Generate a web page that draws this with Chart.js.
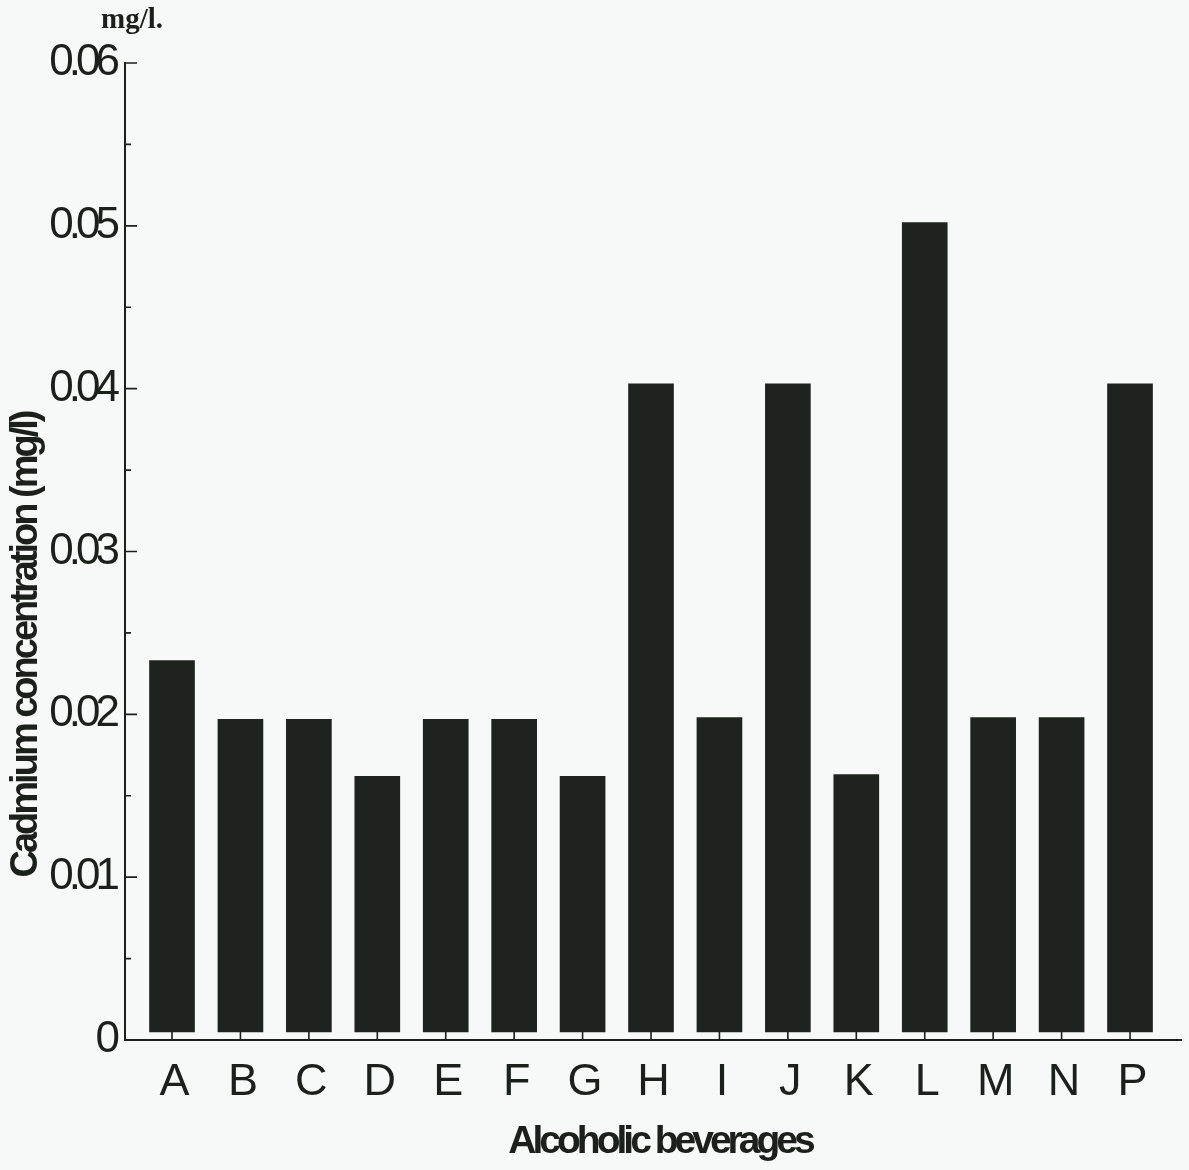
<!DOCTYPE html>
<html>
<head>
<meta charset="utf-8">
<title>Cadmium concentration in alcoholic beverages</title>
<script src="https://cdn.jsdelivr.net/npm/chart.js@4.4.1/dist/chart.umd.min.js"></script>
<style>
  html, body { margin: 0; padding: 0; background: #f7f9f8; }
  #wrap { width: 1189px; height: 1170px; }
</style>
</head>
<body>
<div id="wrap"><canvas id="chart" width="1189" height="1170"></canvas></div>
<script>
// Beverage samples and their cadmium concentration (mg/l)
const categories = ['A', 'B', 'C', 'D', 'E', 'F', 'G', 'H', 'I', 'J', 'K', 'L', 'M', 'N', 'P'];
const cadmium = [0.0233, 0.0197, 0.0197, 0.0162, 0.0197, 0.0197, 0.0162, 0.0403, 0.0198, 0.0403, 0.0163, 0.0502, 0.0198, 0.0198, 0.0403];

// Value axis
const yMin = 0;
const yMax = 0.06;
const yStep = 0.01;

// Texts
const unitNote = 'mg/l.';
const xTitle = 'Alcoholic beverages';
const yTitle = 'Cadmium concentration (mg/l)';

const ink = '#1c201d';
const barColor = '#1e2320';

// Inward tick marks on both axes plus the hand-set axis titles
const axisDecor = {
  id: 'axisDecor',
  beforeDraw(chart) {
    // condensed look of the tick numbers
    chart.ctx.letterSpacing = '-5px';
  },
  afterDatasetsDraw(chart) {
    const ctx = chart.ctx;
    const x = chart.scales.x, y = chart.scales.y;
    const left = chart.chartArea.left, bottom = chart.chartArea.bottom;
    ctx.save();
    ctx.strokeStyle = ink;
    ctx.lineWidth = 1.6;
    ctx.beginPath();
    const ticks = y.ticks.map(t => t.value);
    ticks.forEach((v, i) => {
      if (i > 0) {
        const p = y.getPixelForValue(v);
        ctx.moveTo(left, p); ctx.lineTo(left + 12, p);
        const m = y.getPixelForValue((v + ticks[i - 1]) / 2);
        ctx.moveTo(left, m); ctx.lineTo(left + 6, m);
      }
    });
    x.ticks.forEach(t => {
      const p = x.getPixelForValue(t.value);
      ctx.moveTo(p, bottom); ctx.lineTo(p, bottom - 9);
    });
    ctx.stroke();
    ctx.restore();
  },
  afterDraw(chart) {
    const ctx = chart.ctx;
    ctx.save();
    ctx.fillStyle = ink;

    ctx.letterSpacing = '0px';
    ctx.font = 'bold 29px "Liberation Serif", "Times New Roman", serif';
    ctx.textAlign = 'left';
    ctx.textBaseline = 'alphabetic';
    ctx.fillText(unitNote, 101, 28);

    ctx.font = 'bold 39px "Liberation Sans", Arial, sans-serif';
    ctx.letterSpacing = '-4px';
    ctx.textAlign = 'center';
    ctx.fillText(xTitle, 660, 1153);

    ctx.font = 'bold 38px "Liberation Sans", Arial, sans-serif';
    ctx.letterSpacing = '-3px';
    ctx.translate(37, 645);
    ctx.rotate(-Math.PI / 2);
    ctx.fillText(yTitle, 0, 0);
    ctx.restore();
    ctx.letterSpacing = '0px';
  }
};

new Chart(document.getElementById('chart'), {
  type: 'bar',
  data: {
    datasets: [{
      label: 'Cadmium',
      data: cadmium.map((v, i) => ({ x: i, y: v })),
      backgroundColor: barColor,
      borderWidth: 0,
      barThickness: 45,
      base: 0.0005
    }]
  },
  options: {
    responsive: false,
    animation: false,
    devicePixelRatio: 1,
    layout: { padding: { top: 63, right: 8, left: 0, bottom: 0 } },
    plugins: { legend: { display: false }, tooltip: { enabled: false } },
    scales: {
      x: {
        type: 'linear',
        offset: false,
        min: -0.687,
        max: 14.745,
        grid: { display: false, drawTicks: false, offset: false },
        border: { display: true, color: ink, width: 2 },
        afterBuildTicks(scale) { scale.ticks = categories.map((c, i) => ({ value: i })); },
        afterFit(scale) { scale.height = 130; },
        ticks: {
          autoSkip: false,
          maxRotation: 0,
          padding: 16,
          color: ink,
          font: { family: '"Liberation Sans", Arial, sans-serif', size: 45 },
          callback: (v, i) => categories[i]
        }
      },
      y: {
        min: yMin,
        max: yMax,
        grid: { display: false, drawTicks: false },
        border: { display: true, color: ink, width: 2 },
        afterFit(scale) { scale.width = 125; },
        ticks: {
          stepSize: yStep,
          padding: 10,
          color: ink,
          font: { family: '"Liberation Sans", Arial, sans-serif', size: 44 },
          callback: v => (Math.abs(v) < 1e-9 ? '0' : v.toFixed(2))
        }
      }
    }
  },
  plugins: [axisDecor]
});
</script>
</body>
</html>
